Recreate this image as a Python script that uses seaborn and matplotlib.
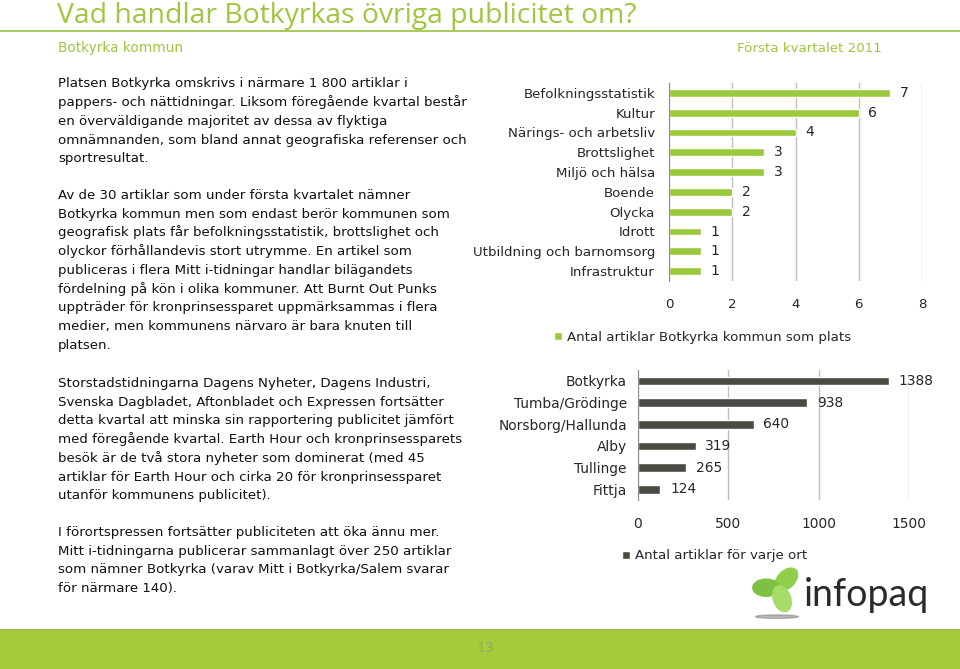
import numpy as np
import pandas as pd
import matplotlib
matplotlib.use("Agg")
import matplotlib.pyplot as plt
import seaborn as sns
from matplotlib.patches import Ellipse, Rectangle

# -----------------------------
# Data
# -----------------------------
topics = ["Befolkningsstatistik", "Kultur", "Närings- och arbetsliv", "Brottslighet",
          "Miljö och hälsa", "Boende", "Olycka", "Idrott",
          "Utbildning och barnomsorg", "Infrastruktur"]
topic_counts = [7, 6, 4, 3, 3, 2, 2, 1, 1, 1]
topic_ticks = [0, 2, 4, 6, 8]

places = ["Botkyrka", "Tumba/Grödinge", "Norsborg/Hallunda", "Alby", "Tullinge", "Fittja"]
place_counts = [1388, 938, 640, 319, 265, 124]
place_ticks = [0, 500, 1000, 1500]

title = "Vad handlar Botkyrkas övriga publicitet om?"
subtitle_left = "Botkyrka kommun"
subtitle_right = "Första kvartalet 2011"
legend_topics = "Antal artiklar Botkyrka kommun som plats"
legend_places = "Antal artiklar för varje ort"
page_no = "13"

para1 = ["Platsen Botkyrka omskrivs i närmare 1 800 artiklar i",
         "pappers- och nättidningar. Liksom föregående kvartal består",
         "en överväldigande majoritet av dessa av flyktiga",
         "omnämnanden, som bland annat geografiska referenser och",
         "sportresultat."]
para2 = ["Av de 30 artiklar som under första kvartalet nämner",
         "Botkyrka kommun men som endast berör kommunen som",
         "geografisk plats får befolkningsstatistik, brottslighet och",
         "olyckor förhållandevis stort utrymme. En artikel som",
         "publiceras i flera Mitt i-tidningar handlar bilägandets",
         "fördelning på kön i olika kommuner. Att Burnt Out Punks",
         "uppträder för kronprinsessparet uppmärksammas i flera",
         "medier, men kommunens närvaro är bara knuten till",
         "platsen."]
para3 = ["Storstadstidningarna Dagens Nyheter, Dagens Industri,",
         "Svenska Dagbladet, Aftonbladet och Expressen fortsätter",
         "detta kvartal att minska sin rapportering publicitet jämfört",
         "med föregående kvartal. Earth Hour och kronprinsessparets",
         "besök är de två stora nyheter som dominerat (med 45",
         "artiklar för Earth Hour och cirka 20 för kronprinsessparet",
         "utanför kommunens publicitet)."]
para4 = ["I förortspressen fortsätter publiciteten att öka ännu mer.",
         "Mitt i-tidningarna publicerar sammanlagt över 250 artiklar",
         "som nämner Botkyrka (varav Mitt i Botkyrka/Salem svarar",
         "för närmare 140)."]

topics_df = pd.DataFrame({"topic": topics, "count": topic_counts})
places_df = pd.DataFrame({"place": places, "count": place_counts})

# -----------------------------
# Style
# -----------------------------
sns.set_style("white")
plt.rcParams["font.family"] = ["DejaVu Sans"]

GREEN = "#9bc93c"
DARK = "#4b4b43"
TITLE_GREEN = "#9fc63f"
W, H = 960, 669

fig = plt.figure(figsize=(9.6, 6.69), dpi=100)


def fx(px):
    return px / W


def fy(py):
    return 1 - py / H


# header
fig.text(fx(57), fy(22.5), title, fontsize=20.4, color=TITLE_GREEN,
         family=["Open Sans", "DejaVu Sans"], va="baseline")
fig.add_artist(plt.Line2D([0, 1], [fy(31), fy(31)], color="#a8cc5e", lw=1.5))
fig.text(fx(58), fy(52), subtitle_left, fontsize=9.8, color=TITLE_GREEN,
         va="baseline")
fig.text(fx(882), fy(52), subtitle_right, fontsize=9.6, color=TITLE_GREEN,
         va="baseline", ha="right")

# body text
step = 18.7
for lines, base in [(para1, 87.5), (para2, 199), (para3, 387), (para4, 536)]:
    for i, line in enumerate(lines):
        fig.text(fx(58), fy(base + i * step), line, fontsize=9.6,
                 color="#111111", va="baseline")


def style_axes(ax, n, ticks, label_size, pad):
    ax.set_xlim(ticks[0], ticks[-1])
    ax.set_xticks(ticks)
    ax.set_xlabel("")
    ax.set_ylabel("")
    for s in ["top", "right", "bottom"]:
        ax.spines[s].set_visible(False)
    ax.spines["left"].set_color("#8c8c8c")
    ax.xaxis.grid(True, color="#bdbdbd", lw=1)
    ax.set_axisbelow(True)
    ax.set_yticks(np.arange(-0.5, n), minor=True)
    ax.tick_params(axis="y", which="minor", length=5, color="#8c8c8c", direction="out")
    ax.tick_params(axis="y", which="major", length=0, pad=pad, labelsize=label_size)
    ax.tick_params(axis="x", length=0, pad=12, labelsize=label_size)
    ax.set_ylim(n - 0.5, -0.5)


# chart 1: topics
ax1 = fig.add_axes([fx(669), fy(281), fx(922) - fx(669), fy(83) - fy(281)])
sns.barplot(data=topics_df, x="count", y="topic", orient="h", color=GREEN,
            width=0.4, ax=ax1, label=legend_topics, saturation=1)
style_axes(ax1, len(topics), topic_ticks, 9.6, 10)
ax1.bar_label(ax1.containers[0], padding=7, fontsize=10)
ax1.legend(loc="center left", bbox_to_anchor=(fx(542), fy(337)),
           bbox_transform=fig.transFigure, frameon=False, fontsize=9.6,
           handlelength=0.6, handleheight=0.6, handletextpad=0.4)

# chart 2: places
ax2 = fig.add_axes([fx(638), fy(500), fx(909) - fx(638), fy(370) - fy(500)])
sns.barplot(data=places_df, x="count", y="place", orient="h", color=DARK,
            width=0.4, ax=ax2, label=legend_places, saturation=1)
style_axes(ax2, len(places), place_ticks, 9.9, 8)
ax2.bar_label(ax2.containers[0], padding=7, fontsize=9.9)
ax2.legend(loc="center left", bbox_to_anchor=(fx(610), fy(556)),
           bbox_transform=fig.transFigure, frameon=False, fontsize=9.6,
           handlelength=0.6, handleheight=0.6, handletextpad=0.4)

# logo
lax = fig.add_axes([fx(752), fy(622), fx(52), fy(562) - fy(622)])
lax.set_xlim(-1.2, 1.2)
lax.set_ylim(-1.6, 1.2)
lax.set_aspect("equal")
lax.axis("off")
lax.add_patch(Ellipse((-0.05, -1.35), 2.0, 0.16, color="#8a8a8a", alpha=0.6))
for ang, col in [(45, "#8fcf4a"), (180, "#7cc142"), (290, "#a6dc6a")]:
    r = np.deg2rad(ang)
    lax.add_patch(Ellipse((0.55 * np.cos(r), 0.55 * np.sin(r)), 1.25, 0.8,
                          angle=ang, color=col))
fig.text(fx(804), fy(606), "infopaq", fontsize=27, color="#2a2a2a",
         family=["Lato", "DejaVu Sans"], va="baseline")

# footer
fig.add_artist(Rectangle((0, 0), 1, fy(630), transform=fig.transFigure,
                         color="#a5cc3a", zorder=0))
fig.add_artist(plt.Line2D([0, 1], [fy(630), fy(630)], color="#9bbd4a", lw=1.5))
fig.text(fx(485), fy(648), page_no, fontsize=10, color="#8ea96a",
         ha="center", va="center", family=["Liberation Sans Narrow", "DejaVu Sans"])

fig.savefig("out.png", dpi=100)
